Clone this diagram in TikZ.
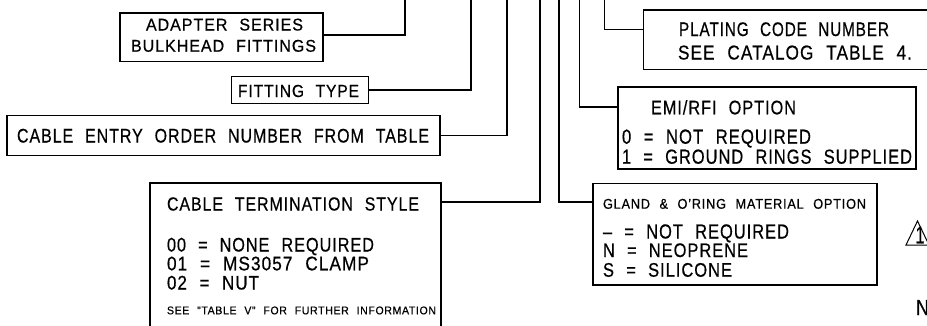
\documentclass[tikz,border=0pt]{standalone}
\usepackage{fontspec}
\setmainfont[LetterSpace=6, WordSpace=2.2, FakeBold=0.6]{Liberation Sans}
\usepackage{graphicx}
\newcommand\fitt[3]{\resizebox{#1pt}{#2pt}{\raisebox{0pt}[0.688em][0pt]{#3}}}
\tikzset{
  box/.style={draw, line width=1.6pt, rectangle, inner sep=0pt},
  conn/.style={line width=1.5pt},
  txt/.style={anchor=base west, inner sep=0pt, outer sep=0pt},
}
\begin{document}
\begin{tikzpicture}[x=1pt,y=-1pt]
\useasboundingbox (0,0) rectangle (927,325);
\clip (0,0) rectangle (927,325);

% boxes
\node[box, minimum width=203pt, minimum height=48.5pt] (adapter) at (221.5,37.25) {};
\node[box, minimum width=137pt, minimum height=27pt] (fitting) at (300,90) {};
\node[box, minimum width=433pt, minimum height=40pt] (entry) at (223.5,135.5) {};
\node[box, minimum width=291pt, minimum height=160pt] (term) at (295.5,263) {};
\node[box, minimum width=297pt, minimum height=59.3pt] (plating) at (792,39.65) {};
\node[box, minimum width=298pt, minimum height=82pt] (emi) at (767,128) {};
\node[box, minimum width=284pt, minimum height=101.5pt] (gland) at (735,234.25) {};

% elbow and top coordinates
\coordinate (kA) at (405,35);   \coordinate (tA) at (405,-3);
\coordinate (kF) at (471,90);   \coordinate (tF) at (471,-3);
\coordinate (kE) at (507,135.5);\coordinate (tE) at (507,-3);
\coordinate (kT) at (540,202);  \coordinate (tT) at (540,-3);
\coordinate (kG) at (559,202);  \coordinate (tG) at (559,-3);
\coordinate (kM) at (579.5,107);\coordinate (tM) at (579.5,-3);
\coordinate (kP) at (604.5,29.3);\coordinate (tP) at (604.5,-3);

% connectors
\draw[conn] (adapter.east |- kA) -- (kA) -- (tA);
\draw[conn] (fitting.east |- kF) -- (kF) -- (tF);
\draw[conn] (entry.east |- kE) -- (kE) -- (tE);
\draw[conn] (term.east |- kT) -- (kT) -- (tT);
\draw[conn] (gland.west |- kG) -- (kG) -- (tG);
\draw[conn] (emi.west |- kM) -- (kM) -- (tM);
\draw[conn] (plating.west |- kP) -- (kP) -- (tP);

% texts
\node[txt] (t1) at (146,30.5) {\fitt{157}{11.7}{ADAPTER SERIES}};
\node[txt] (t2) at (131,51.7) {\fitt{185}{11.7}{BULKHEAD FITTINGS}};
\node[txt] (t3) at (238,97) {\fitt{121}{12}{FITTING TYPE}};
\node[txt] (t4) at (17,142.5) {\fitt{412}{13.5}{CABLE ENTRY ORDER NUMBER FROM TABLE}};
\node[txt] (t5) at (679,36) {\fitt{210}{13.5}{PLATING CODE NUMBER}};
\node[txt] (t6) at (678,59.5) {\fitt{234}{13.8}{SEE CATALOG TABLE 4.}};
\node[txt] (t7) at (651,114.3) {\fitt{145}{13.5}{EMI/RFI OPTION}};
\node[txt] (t8) at (622,143.7) {\fitt{189}{14}{0 = NOT REQUIRED}};
\node[txt] (t9) at (622,163.7) {\fitt{290}{14}{1 = GROUND RINGS SUPPLIED}};
\node[txt] (t10) at (167,210.5) {\fitt{252}{13}{CABLE TERMINATION STYLE}};
\node[txt] (t11) at (167,251.5) {\fitt{207}{13.5}{00 = NONE REQUIRED}};
\node[txt] (t12) at (167,270.3) {\fitt{202}{13.5}{01 = MS3057 CLAMP}};
\node[txt] (t13) at (167,289.5) {\fitt{92}{13.5}{02 = NUT}};
\node[txt] (t14) at (167,314.3) {\fitt{269}{7.7}{SEE "TABLE V" FOR FURTHER INFORMATION}};
\node[txt] (t15) at (603,208.7) {\fitt{263}{9.7}{GLAND \& O'RING MATERIAL OPTION}};
\node[txt] (t16) at (603,238.5) {\fitt{186}{14}{– = NOT REQUIRED}};
\node[txt] (t17) at (603,257) {\fitt{145}{13.5}{N = NEOPRENE}};
\node[txt] (t18) at (603,276.7) {\fitt{129}{13.5}{S = SILICONE}};

% revision triangle and cut text
\draw[line width=1pt] (906,245) -- (917.5,221) -- (929,245) -- cycle;
\node[txt] (rev) at (915.5,243.3) {\fitt{9}{16.5}{1}};
\node[txt] (nn) at (916,315) {\fitt{13}{15}{N}};
\end{tikzpicture}
\end{document}
